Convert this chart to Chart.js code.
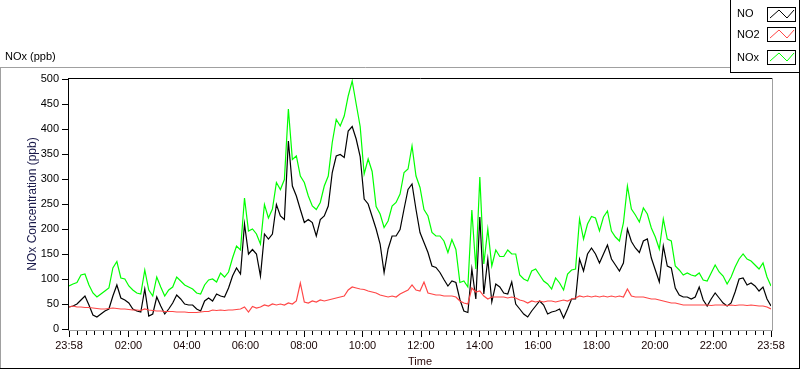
<!DOCTYPE html>
<html>
<head>
<meta charset="utf-8">
<script src="https://cdn.jsdelivr.net/npm/chart.js@4.4.0/dist/chart.umd.min.js"></script>
<style>
  html, body { margin: 0; padding: 0; background: #fff; }
  #wrap { position: relative; width: 800px; height: 369px; }
</style>
</head>
<body>
<div id="wrap"><canvas id="chart" width="800" height="369"></canvas></div>
<script>
// ========================
// Data (one reading every ~8 min, 23:58 -> 23:58)
// ========================
const SPAN_MIN = 1440;
const tickMinutes = [0, 122, 242, 362, 482, 602, 722, 842, 962, 1082, 1202, 1322, 1440];
const tickLabels = ['23:58', '02:00', '04:00', '06:00', '08:00', '10:00', '12:00',
  '14:00', '16:00', '18:00', '20:00', '22:00', '23:58'];
const yTicks = [0, 50, 100, 150, 200, 250, 300, 350, 400, 450, 500];

const seriesNames = ['NO', 'NO2', 'NOx'];
const seriesColors = ['#000000', '#ff4646', '#00ff00'];

const noValues = [
  44, 46, 50, 58, 66, 48, 28, 24, 30, 36, 40, 66, 88, 62, 58, 52, 40, 36, 34, 80,
  26, 30, 64, 46, 30, 40, 52, 68, 60, 50, 48, 48, 40, 36, 56, 62,
  56, 70, 66, 64, 82, 106, 122, 110, 210, 150, 159, 150, 106, 190, 180, 190, 249, 226, 219, 376,
  286, 266, 239, 213, 219, 213, 186, 219, 226, 246, 313, 346, 349, 343, 396,
  405, 380, 345, 260, 250, 225, 200, 170, 113, 160, 186, 186, 199, 240, 279, 290, 239, 193, 173, 153,
  126, 123, 113, 99, 86, 96, 93, 59, 36, 33, 120, 60, 224, 70, 140,
  54, 90, 84, 72, 70, 94, 50, 40, 30, 24, 36, 46, 56, 48, 30, 34, 36, 40, 22, 40,
  60, 60, 140, 116, 150, 162, 150, 132, 150, 168, 140, 128, 116, 132, 200, 175,
  162, 153, 176, 180, 142, 118, 94, 166, 126, 122, 82, 68, 64, 64, 60, 64, 84, 58, 46, 60,
  72, 62, 52, 46, 52, 74, 100, 102, 88, 92, 86, 76, 84, 60, 46
];
const no2Values = [
  44, 46, 44, 44, 43, 43, 42, 41, 40, 40, 41, 42, 41, 40, 40, 39, 38, 38, 37, 40,
  38, 37, 36, 36, 35, 35, 35, 34, 34, 34, 33, 33, 33, 34, 35, 35,
  38, 37, 38, 37, 38, 38, 39, 40, 44, 34, 45, 42, 44, 48, 46, 50, 48, 50, 48, 52,
  50, 56, 92, 54, 52, 56, 54, 58, 56, 58, 60, 62, 64, 66, 78,
  84, 82, 80, 79, 76, 74, 72, 68, 66, 64, 66, 64, 70, 74, 78, 88, 78, 76, 94, 72,
  70, 68, 68, 66, 66, 66, 64, 56, 52, 50, 82, 74, 76, 66, 60,
  64, 64, 64, 64, 62, 64, 62, 58, 56, 52, 56, 54, 56, 54, 56, 56, 54, 56, 58, 56,
  60, 62, 66, 64, 66, 64, 66, 64, 66, 64, 66, 64, 66, 64, 80, 66,
  64, 64, 64, 62, 60, 60, 58, 56, 54, 52, 52, 50, 48, 48, 48, 48, 48, 48, 48, 47,
  48, 48, 48, 47, 48, 47, 48, 48, 47, 48, 47, 46, 46, 44, 40
];
const noxValues = [
  86, 90, 93, 108, 110, 88, 72, 64, 70, 76, 82, 122, 135, 102, 100, 86, 78, 72, 70, 118,
  78, 66, 104, 84, 66, 78, 84, 104, 96, 88, 84, 80, 72, 70, 88, 98,
  100, 94, 112, 104, 114, 142, 166, 158, 262, 196, 200, 190, 170, 249, 222, 240, 293, 279, 299, 440,
  339, 346, 306, 293, 266, 246, 239, 253, 286, 306, 373, 419, 406, 426, 466,
  496, 450, 405, 310, 340, 315, 245, 230, 203, 216, 246, 253, 270, 313, 320, 366, 306, 283, 239, 226,
  193, 186, 186, 176, 153, 179, 159, 93, 96, 84, 238, 120, 304, 130, 200,
  126, 158, 145, 145, 158, 150, 150, 108, 100, 96, 116, 120, 108, 96, 90, 80, 102, 92, 78, 110,
  118, 120, 220, 180, 210, 225, 222, 196, 224, 236, 196, 184, 176, 212, 286, 240,
  228, 214, 242, 230, 202, 184, 160, 220, 180, 176, 126, 118, 108, 112, 108, 106, 112, 98, 96, 112,
  128, 114, 106, 90, 104, 124, 140, 150, 140, 136, 128, 120, 132, 104, 86
];

const FONT = 'Liberation Sans, Arial, sans-serif';
const stepMin = SPAN_MIN / (noValues.length - 1);
const toPoints = vals => vals.map((v, i) => ({ x: i * stepMin, y: v }));

// ========================
// Frame, title, legend, x ticks
// ========================
const framePlugin = {
  id: 'frame',
  beforeDraw(chart) {
    const ctx = chart.ctx;
    ctx.save();
    ctx.fillStyle = '#fff';
    ctx.fillRect(0, 0, chart.width, chart.height);
    ctx.restore();
  },
  afterDraw(chart) {
    const ctx = chart.ctx;
    const xs = chart.scales.x;
    ctx.save();
    const line = (x1, y1, x2, y2, c) => {
      ctx.strokeStyle = c;
      ctx.lineWidth = 1;
      ctx.beginPath();
      ctx.moveTo(x1, y1);
      ctx.lineTo(x2, y2);
      ctx.stroke();
    };
    // outer frame
    line(0, 67.5, 731, 67.5, '#a0a0a0');
    line(0.5, 67, 0.5, 369, '#a0a0a0');
    line(0, 368.5, 800, 368.5, '#000');
    line(799.5, 0, 799.5, 369, '#000');
    // plot frame
    line(68, 78.5, 773, 78.5, '#000');
    line(68.5, 78, 68.5, 331, '#000');
    line(68, 330.5, 773, 330.5, '#a0a0a0');
    line(772.5, 78, 772.5, 331, '#a0a0a0');

    // x ticks: major at labels, 6 minor in between
    for (let i = 0; i < tickMinutes.length; i++) {
      const px = Math.round(xs.getPixelForValue(tickMinutes[i])) + 0.5;
      line(px, 331, px, 337, '#000');
      if (i < tickMinutes.length - 1) {
        const d = (tickMinutes[i + 1] - tickMinutes[i]) / 7;
        for (let k = 1; k < 7; k++) {
          const mx = Math.round(xs.getPixelForValue(tickMinutes[i] + k * d)) + 0.5;
          line(mx, 331, mx, 335, '#000');
        }
      }
    }

    // title
    ctx.fillStyle = '#000';
    ctx.font = '11px ' + FONT;
    ctx.textAlign = 'left';
    ctx.textBaseline = 'middle';
    ctx.fillText('NOx (ppb)', 5, 57);

    // legend box
    ctx.fillStyle = '#fff';
    ctx.fillRect(731, 0, 68, 72);
    line(730.5, 0, 730.5, 73, '#000');
    line(730, 72.5, 800, 72.5, '#000');
    const rows = [{ ty: 13.5, by: 7 }, { ty: 35, by: 27 }, { ty: 58, by: 50 }];
    rows.forEach((r, i) => {
      ctx.fillStyle = '#000';
      ctx.fillText(seriesNames[i], 737, r.ty);
      ctx.strokeStyle = '#000';
      ctx.strokeRect(767.5, r.by + 0.5, 28, 14);
      ctx.strokeStyle = seriesColors[i];
      ctx.beginPath();
      ctx.moveTo(770, r.by + 11);
      ctx.lineTo(779, r.by + 3);
      ctx.lineTo(787, r.by + 11);
      ctx.lineTo(794, r.by + 3);
      ctx.stroke();
    });
    ctx.restore();
  }
};

// ========================
// Chart
// ========================
const datasets = [
  { label: seriesNames[0], data: toPoints(noValues), borderColor: seriesColors[0], order: 2 },
  { label: seriesNames[1], data: toPoints(no2Values), borderColor: seriesColors[1], order: 1 },
  { label: seriesNames[2], data: toPoints(noxValues), borderColor: seriesColors[2], order: 0 }
].map(d => Object.assign(d, { borderWidth: 1.2, pointRadius: 0, tension: 0, fill: false }));

new Chart(document.getElementById('chart'), {
  type: 'line',
  data: { datasets },
  options: {
    responsive: false,
    animation: false,
    layout: { padding: { left: 0, right: 29, top: 79, bottom: 0 } },
    plugins: { legend: { display: false }, tooltip: { enabled: false } },
    scales: {
      x: {
        type: 'linear',
        min: 0,
        max: SPAN_MIN,
        afterFit: s => { s.height = 40; },
        afterBuildTicks: s => { s.ticks = tickMinutes.map(v => ({ value: v })); },
        grid: { display: true, drawOnChartArea: false, tickLength: 8, color: 'rgba(0,0,0,0)' },
        border: { display: false },
        ticks: {
          autoSkip: false,
          maxRotation: 0,
          padding: 2,
          color: '#1a0505',
          font: { family: FONT, size: 11 },
          callback: (v, i) => tickLabels[i]
        },
        title: {
          display: true,
          text: 'Time',
          color: '#2a0808',
          font: { family: FONT, size: 11 },
          padding: { top: 0, bottom: 0 }
        }
      },
      y: {
        min: 0,
        max: 500,
        afterFit: s => { s.width = 69; },
        afterBuildTicks: s => { s.ticks = yTicks.map(v => ({ value: v })); },
        grid: { drawOnChartArea: false, tickLength: 7, color: '#000' },
        border: { display: false },
        ticks: {
          padding: 3,
          color: '#000',
          font: { family: FONT, size: 11 }
        },
        title: {
          display: true,
          text: 'NOx Concentration (ppb)',
          color: '#1a1a4a',
          font: { family: FONT, size: 12 },
          padding: { top: 25, bottom: 0 }
        }
      }
    }
  },
  plugins: [framePlugin]
});
</script>
</body>
</html>
